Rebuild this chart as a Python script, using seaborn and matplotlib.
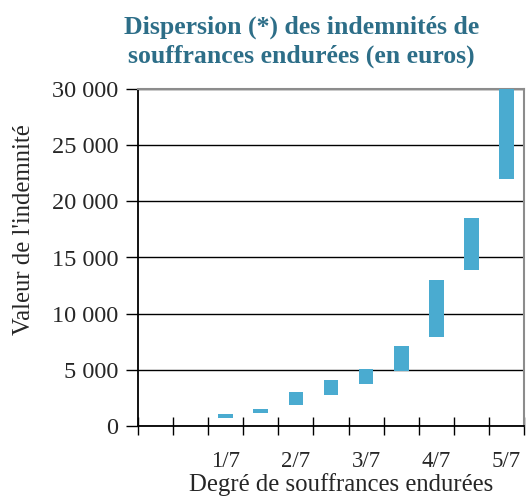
import matplotlib.pyplot as plt
import seaborn as sns
import pandas as pd
from matplotlib.ticker import FuncFormatter

# degrés de souffrances (demi-degrés intercalés, sans étiquette)
degres = ["0", "0,5/7", "1/7", "1,5/7", "2/7", "2,5/7", "3/7", "3,5/7", "4/7", "4,5/7", "5/7"]
etiquettes = ["", "", "1/7", "", "2/7", "", "3/7", "", "4/7", "", "5/7"]

# fourchettes d'indemnités (euros) pour les degrés qui ont une barre
degres_barres = ["1/7", "1,5/7", "2/7", "2,5/7", "3/7", "3,5/7", "4/7", "4,5/7", "5/7"]
bas = [700, 1150, 1900, 2800, 3700, 4900, 7900, 13900, 22000]
haut = [1050, 1550, 3000, 4100, 5100, 7100, 13000, 18500, 30000]

df = pd.DataFrame({"degre": degres_barres, "bas": bas, "haut": haut})
df["ecart"] = df["haut"] - df["bas"]

sns.set_theme(style="white")
plt.rcParams["font.family"] = ["Liberation Serif", "DejaVu Serif"]

fig = plt.figure(figsize=(5.26, 4.98), dpi=100)
ax = fig.add_axes([138 / 526, 72 / 498, 386 / 526, 337 / 498])

ax.grid(axis="y", color="black", linewidth=1)
ax.set_axisbelow(True)

sns.barplot(
    data=df, x="degre", y="ecart", order=degres, bottom=df["bas"].to_numpy(),
    color="#4aabd0", saturation=1, width=0.42, linewidth=0, ax=ax, zorder=3,
)

ax.set_xlim(-0.5, 10.5)
ax.set_ylim(0, 30000)

ax.set_xticks(range(len(degres)))
ax.set_xticklabels(etiquettes)
ax.set_xticks([i - 0.5 for i in range(len(degres) + 1)], minor=True)
ax.tick_params(axis="x", which="major", length=0, pad=18, labelsize=16.5)
ax.tick_params(axis="x", which="minor", bottom=True, direction="inout",
               length=13, width=1, color="black")

ax.set_yticks(range(0, 30001, 5000))
ax.yaxis.set_major_formatter(FuncFormatter(lambda v, p: f"{v:,.0f}".replace(",", " ")))
ax.tick_params(axis="y", left=True, direction="out", length=9, width=1,
               color="black", pad=5, labelsize=17.5)

for s in ["left", "bottom"]:
    ax.spines[s].set_color("black")
    ax.spines[s].set_linewidth(1.3)
for s in ["top", "right"]:
    ax.spines[s].set_color("#8c8c8c")
    ax.spines[s].set_linewidth(1.5)

ax.set_xlabel("Degré de souffrances endurées", fontsize=17.8)
ax.xaxis.set_label_coords((341 - 138) / 386, (426 - 473) / 337)
ax.set_ylabel("Valeur de l'indemnité", fontsize=17.8)
ax.yaxis.set_label_coords((35 - 138) / 386, (426 - 230) / 337)

fig.text(0.573, 1 - 27 / 498, "Dispersion (*) des indemnités de", ha="center", va="center",
         fontsize=18.5, fontweight="bold", color="#2d6e88")
fig.text(0.573, 1 - 56 / 498, "souffrances endurées (en euros)", ha="center", va="center",
         fontsize=18.5, fontweight="bold", color="#2d6e88")

fig.savefig("out.png", dpi=100)
